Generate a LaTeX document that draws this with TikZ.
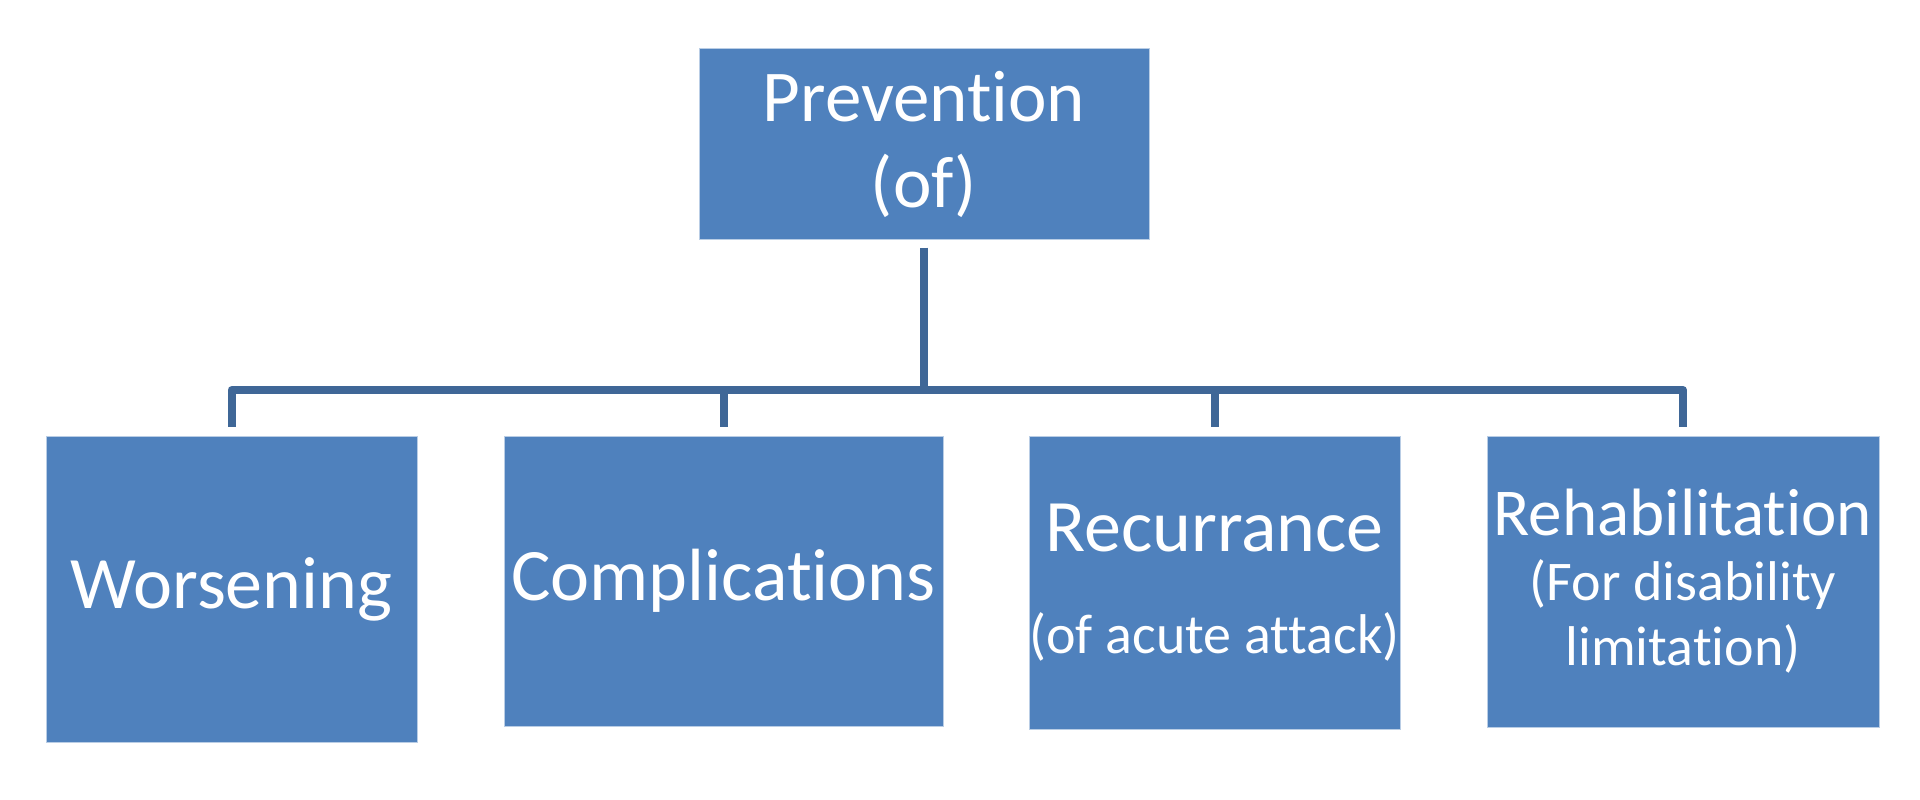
\documentclass[tikz,border=0pt]{standalone}
\usepackage{fontspec}
\setmainfont{Carlito}[Ligatures=NoCommon]
\definecolor{boxblue}{HTML}{4F81BD}
\definecolor{linkblue}{HTML}{3F6797}
\definecolor{edgeblue}{HTML}{B9CDE5}
\begin{document}
\begin{tikzpicture}[x=1pt,y=-1pt,
  box/.style={draw=edgeblue, line width=1pt, fill=boxblue, text=white, inner sep=0pt, align=center},
  conn/.style={draw=linkblue, line width=8pt, line join=round}]
\useasboundingbox[fill=white] (0,0) rectangle (1920,800);
\node[box, minimum width=450pt, minimum height=190pt, font=\fontsize{73}{86}\selectfont] (top) at (924,144) {Prevention\\(of)};
\node[box, minimum width=371pt, minimum height=306pt, font=\fontsize{74}{90}\selectfont] (w) at (231.5,589) {Worsening};
\node[box, minimum width=439pt, minimum height=290pt, font=\fontsize{74}{90}\selectfont] (c) at (723.5,581) {Complications};
\node[box, minimum width=371pt, minimum height=293pt, font=\fontsize{56}{102}\selectfont] (r) at (1214.5,582.5) {{\fontsize{74}{102}\selectfont Recurrance}\\(of acute attack)};
\node[box, minimum width=392pt, minimum height=291pt, font=\fontsize{56}{65}\selectfont] (a) at (1683,581.5) {{\fontsize{67}{65}\selectfont Rehabilitation}\\(For disability\\limitation)};
\coordinate (bar) at (924,390);
\draw[conn] ([yshift=-8pt]top.south) -- (top.south |- bar);
\draw[conn] ([yshift=9pt]w.north) -- (w.north |- bar) -- (a.north |- bar) -- ([yshift=9pt]a.north);
\draw[conn] ([yshift=9pt]c.north) -- (c.north |- bar);
\draw[conn] ([yshift=9pt]r.north) -- (r.north |- bar);
\end{tikzpicture}
\end{document}
